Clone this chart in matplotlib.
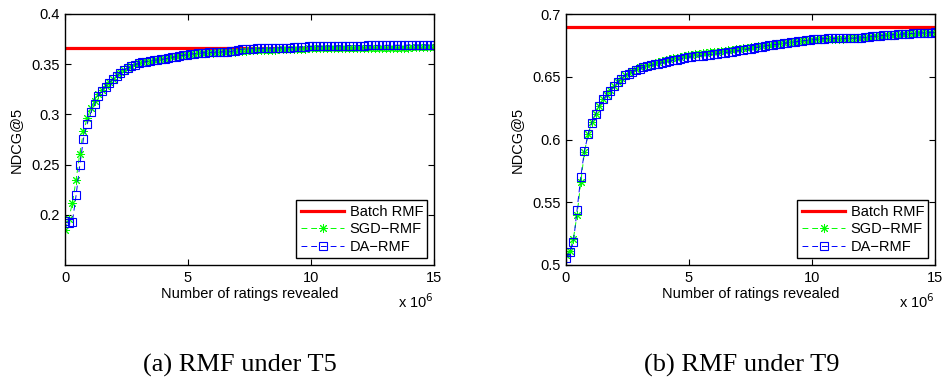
import numpy as np
import matplotlib
matplotlib.use('Agg')
import matplotlib.pyplot as plt
from matplotlib.ticker import FormatStrFormatter, FixedLocator, FuncFormatter

plt.rcParams['font.family'] = ['Liberation Sans', 'DejaVu Sans']

# x grid: ratings revealed (0 .. 15e6, step 0.15e6)
ratings = np.arange(101) * 0.15e6

# (a) T5
batch_t5 = 0.3661
sgd_t5 = [0.1850, 0.1960, 0.2116, 0.2348, 0.2610, 0.2830, 0.2960, 0.3060, 0.3130, 0.3200,
          0.3240, 0.3280, 0.3320, 0.3355, 0.3388, 0.3418, 0.3442, 0.3464, 0.3482, 0.3498,
          0.3510, 0.3520, 0.3528, 0.3534, 0.3540, 0.3545, 0.3550, 0.3556, 0.3563, 0.3570,
          0.3577, 0.3584, 0.3590, 0.3596, 0.3600, 0.3604, 0.3607, 0.3610, 0.3612, 0.3614,
          0.3616, 0.3618, 0.3619, 0.3621, 0.3622, 0.3623, 0.3625, 0.3630, 0.3634, 0.3636,
          0.3638, 0.3640, 0.3641, 0.3642, 0.3643, 0.3644, 0.3645, 0.3646, 0.3647, 0.3648,
          0.3649, 0.3650, 0.3651, 0.3652, 0.3654, 0.3656, 0.3657, 0.3658, 0.3658, 0.3659,
          0.3659, 0.3660, 0.3660, 0.3661, 0.3661, 0.3662, 0.3662, 0.3662, 0.3663, 0.3663,
          0.3663, 0.3664, 0.3664, 0.3664, 0.3664, 0.3665, 0.3665, 0.3665, 0.3665, 0.3666,
          0.3666, 0.3666, 0.3666, 0.3666, 0.3667, 0.3667, 0.3667, 0.3667, 0.3667, 0.3668,
          0.3668]
da_t5 = [0.1934, 0.1915, 0.1930, 0.2193, 0.2492, 0.2757, 0.2903, 0.3020, 0.3100, 0.3188,
         0.3233, 0.3277, 0.3317, 0.3350, 0.3385, 0.3415, 0.3440, 0.3462, 0.3480, 0.3496,
         0.3508, 0.3518, 0.3526, 0.3532, 0.3538, 0.3542, 0.3547, 0.3553, 0.3560, 0.3567,
         0.3575, 0.3582, 0.3590, 0.3595, 0.3600, 0.3604, 0.3608, 0.3612, 0.3614, 0.3617,
         0.3619, 0.3621, 0.3622, 0.3624, 0.3625, 0.3627, 0.3635, 0.3645, 0.3650, 0.3652,
         0.3654, 0.3656, 0.3657, 0.3658, 0.3659, 0.3660, 0.3661, 0.3662, 0.3663, 0.3664,
         0.3665, 0.3666, 0.3667, 0.3669, 0.3672, 0.3675, 0.3677, 0.3678, 0.3678, 0.3679,
         0.3680, 0.3680, 0.3681, 0.3681, 0.3682, 0.3683, 0.3684, 0.3685, 0.3685, 0.3686,
         0.3686, 0.3686, 0.3687, 0.3687, 0.3687, 0.3688, 0.3688, 0.3688, 0.3689, 0.3689,
         0.3689, 0.3689, 0.3690, 0.3690, 0.3690, 0.3690, 0.3691, 0.3691, 0.3691, 0.3691,
         0.3692]

# (b) T9
batch_t9 = 0.6899
sgd_t9 = [0.5080, 0.5110, 0.5210, 0.5400, 0.5660, 0.5900, 0.6045, 0.6140, 0.6205, 0.6268,
          0.6322, 0.6358, 0.6395, 0.6430, 0.6462, 0.6490, 0.6515, 0.6532, 0.6548, 0.6565,
          0.6575, 0.6587, 0.6597, 0.6605, 0.6612, 0.6620, 0.6627, 0.6633, 0.6640, 0.6647,
          0.6653, 0.6659, 0.6665, 0.6670, 0.6675, 0.6680, 0.6684, 0.6688, 0.6691, 0.6694,
          0.6697, 0.6700, 0.6703, 0.6706, 0.6710, 0.6714, 0.6718, 0.6722, 0.6726, 0.6730,
          0.6734, 0.6738, 0.6742, 0.6746, 0.6750, 0.6754, 0.6758, 0.6762, 0.6766, 0.6770,
          0.6773, 0.6776, 0.6779, 0.6782, 0.6785, 0.6788, 0.6791, 0.6794, 0.6797, 0.6799,
          0.6801, 0.6802, 0.6803, 0.6803, 0.6804, 0.6804, 0.6805, 0.6806, 0.6807, 0.6808,
          0.6810, 0.6812, 0.6815, 0.6818, 0.6821, 0.6824, 0.6827, 0.6829, 0.6831, 0.6833,
          0.6835, 0.6837, 0.6839, 0.6841, 0.6843, 0.6845, 0.6847, 0.6848, 0.6849, 0.6850,
          0.6852]
da_t9 = [0.5053, 0.5100, 0.5180, 0.5440, 0.5700, 0.5910, 0.6040, 0.6135, 0.6200, 0.6270,
         0.6320, 0.6353, 0.6390, 0.6425, 0.6456, 0.6485, 0.6510, 0.6525, 0.6540, 0.6557,
         0.6565, 0.6575, 0.6583, 0.6590, 0.6598, 0.6605, 0.6610, 0.6615, 0.6622, 0.6630,
         0.6636, 0.6642, 0.6648, 0.6655, 0.6660, 0.6663, 0.6666, 0.6668, 0.6672, 0.6676,
         0.6680, 0.6684, 0.6688, 0.6692, 0.6696, 0.6700, 0.6705, 0.6710, 0.6715, 0.6720,
         0.6725, 0.6730, 0.6735, 0.6740, 0.6745, 0.6750, 0.6754, 0.6758, 0.6762, 0.6766,
         0.6770, 0.6774, 0.6778, 0.6782, 0.6786, 0.6790, 0.6794, 0.6797, 0.6800, 0.6802,
         0.6804, 0.6805, 0.6805, 0.6805, 0.6805, 0.6806, 0.6806, 0.6807, 0.6808, 0.6810,
         0.6812, 0.6815, 0.6818, 0.6821, 0.6824, 0.6827, 0.6830, 0.6832, 0.6834, 0.6836,
         0.6838, 0.6840, 0.6842, 0.6844, 0.6846, 0.6848, 0.6849, 0.6850, 0.6851, 0.6852,
         0.6854]

legend_labels = ['Batch RMF', 'SGD\u2212RMF', 'DA\u2212RMF']
captions = ['(a) RMF under T5', '(b) RMF under T9']
xticks = [0, 5e6, 10e6, 15e6]
yticks_t5 = [0.2, 0.25, 0.3, 0.35, 0.4]
yticks_t9 = [0.5, 0.55, 0.6, 0.65, 0.7]

fs = 10.5
fig = plt.figure(figsize=(9.43, 3.79), dpi=100)
ax1 = fig.add_axes([65/943, 114/379, 369/943, 251/379])
ax2 = fig.add_axes([566/943, 114/379, 369/943, 251/379])


def draw(ax, batch, sgd, da, ylim, yticks, caption, cx):
    ax.axhline(batch, color='red', lw=2.3, label=legend_labels[0])
    # matlab-like asterisk marker
    ax.plot(ratings, sgd, color=(0, 1, 0), lw=0.7, ls=(0, (6, 4)), marker=(8, 2, 0),
            ms=6.5, mew=0.7, label=legend_labels[1])
    ax.plot(ratings, da, color=(0, 0, 1), lw=0.7, ls=(0, (6, 4)), marker='s', ms=5.8,
            mfc='none', mew=0.8, label=legend_labels[2])
    ax.set_xlim(0, 15e6)
    ax.set_ylim(*ylim)
    ax.xaxis.set_major_locator(FixedLocator(xticks))
    ax.xaxis.set_major_formatter(FuncFormatter(lambda v, p: '%g' % (v / 1e6)))
    ax.yaxis.set_major_locator(FixedLocator(yticks))
    ax.yaxis.set_major_formatter(FormatStrFormatter('%g'))
    ax.tick_params(direction='in', length=4, width=0.8, top=True, right=True,
                   labelsize=fs, pad=4)
    for s in ax.spines.values():
        s.set_linewidth(1.0)
    ax.set_xlabel('Number of ratings revealed', fontsize=fs, labelpad=2)
    ax.set_ylabel('NDCG@5', fontsize=fs, labelpad=6)
    ax.text(1.0, -0.172, r'x 10$^{6}$', transform=ax.transAxes, ha='right',
            va='baseline', fontsize=fs)
    leg = ax.legend(loc='lower right', fontsize=fs, fancybox=False, framealpha=1,
                    edgecolor='black', handlelength=3.0, handletextpad=0.35,
                    labelspacing=0.25, borderpad=0.3, borderaxespad=0.45)
    leg.get_frame().set_linewidth(1.0)
    fig.text(cx, (379 - 365) / 379, caption, ha='center', va='center',
             fontsize=19, family='Liberation Serif')


draw(ax1, batch_t5, sgd_t5, da_t5, (0.15, 0.4), yticks_t5, captions[0], 240/943)
draw(ax2, batch_t9, sgd_t9, da_t9, (0.5, 0.7), yticks_t9, captions[1], 742/943)

fig.savefig('out.png', dpi=100)
